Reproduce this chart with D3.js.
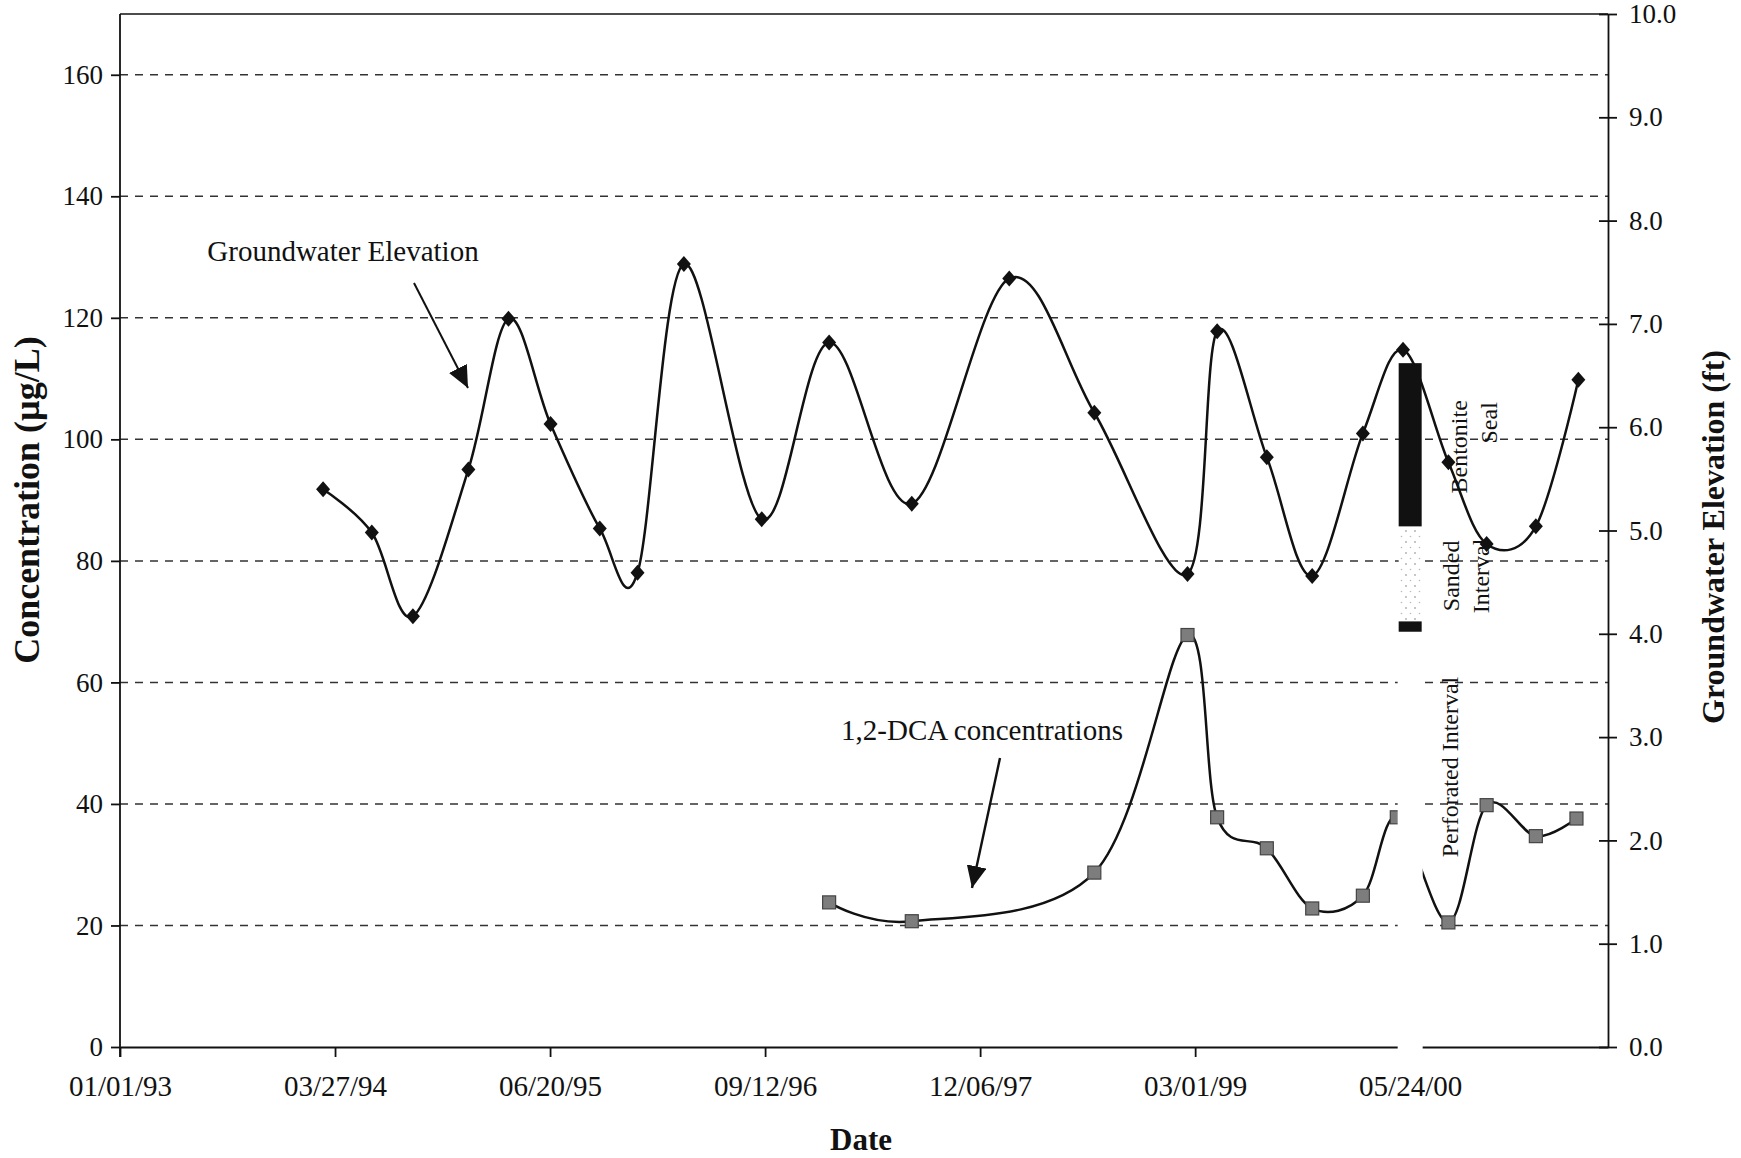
<!DOCTYPE html>
<html lang="en">
  <head>
    <meta charset="utf-8"/>
    <title>Groundwater Elevation and 1,2-DCA</title>
    <style>
      body { margin: 0; background: #fff; }
      text { font-family: "Liberation Serif", "Times New Roman", serif; fill: #111; }
    </style>
  </head>
  <body>
    <svg id="chart"></svg>

    <script src="https://d3js.org/d3.v7.min.js"></script>
    <script type="text/javascript">
      // values
      const xTickDates = ["1993-01-01", "1994-03-27", "1995-06-20", "1996-09-12", "1997-12-06", "1999-03-01", "2000-05-24"];
      const concTicks = [0, 20, 40, 60, 80, 100, 120, 140, 160];
      const elevTicks = [0, 1, 2, 3, 4, 5, 6, 7, 8, 9, 10];

      const gwDates = ["1994-03-02", "1994-06-12", "1994-09-06", "1994-12-31", "1995-03-25", "1995-06-21",
                       "1995-10-02", "1995-12-20", "1996-03-26", "1996-09-05", "1997-01-24", "1997-07-16",
                       "1998-02-05", "1998-08-02", "1999-02-13", "1999-04-16", "1999-07-29", "1999-11-01",
                       "2000-02-15", "2000-05-09", "2000-08-12", "2000-10-31", "2001-02-11", "2001-05-11"];
      const gwElev = [5.40, 4.98, 4.17, 5.59, 7.05, 6.03, 5.02, 4.59, 7.58, 5.11, 6.82, 5.26,
                      7.44, 6.14, 4.58, 6.93, 5.71, 4.56, 5.94, 6.75, 5.66, 4.87, 5.04, 6.46];

      const dcaDates = ["1997-01-24", "1997-07-16", "1998-08-02", "1999-02-13", "1999-04-16", "1999-07-29",
                        "1999-11-01", "2000-02-15", "2000-04-26", "2000-08-12", "2000-10-31", "2001-02-11", "2001-05-07"];
      const dcaConc = [23.8, 20.7, 28.7, 67.8, 37.8, 32.7, 22.8, 24.9, 37.8, 20.5, 39.8, 34.7, 37.6];

      // well construction (elevation, ft)
      const wellDate = "2000-05-24";
      const sealTop = 6.62, sealBottom = 5.04;
      const sandBottom = 4.12, plugBottom = 4.02, perfBottom = -0.12;

      const W = 1741, H = 1158;
      const pLeft = 120, pRight = 1608, pTop = 14, pBottom = 1047;
      const fontSize = 27;

      const parse = d3.timeParse("%Y-%m-%d");
      const fmt = d3.timeFormat("%m/%d/%y");

      const svg = d3.select("#chart").attr("width", W).attr("height", H);

      const x = d3.scaleTime().domain([parse("1993-01-01"), parse("2001-07-12")]).range([pLeft, pRight]);
      const yConc = d3.scaleLinear().domain([0, 170]).range([pBottom, pTop]);
      const yElev = d3.scaleLinear().domain([0, 10]).range([pBottom, pTop]);

      const gw = gwDates.map((d, i) => ({ date: parse(d), v: gwElev[i] }));
      const dca = dcaDates.map((d, i) => ({ date: parse(d), v: dcaConc[i] }));

      const defs = svg.append("defs");
      defs.append("marker")
        .attr("id", "head")
        .attr("markerUnits", "userSpaceOnUse")
        .attr("viewBox", "0 0 22 20")
        .attr("refX", 22).attr("refY", 10)
        .attr("markerWidth", 22).attr("markerHeight", 20)
        .attr("orient", "auto")
        .append("path").attr("d", "M0,0 L22,10 L0,20 Z").attr("fill", "#111");

      const pat = defs.append("pattern")
        .attr("id", "sand").attr("patternUnits", "userSpaceOnUse")
        .attr("width", 9).attr("height", 11);
      pat.append("rect").attr("width", 9).attr("height", 11).attr("fill", "#fff");
      pat.append("circle").attr("cx", 2).attr("cy", 3).attr("r", 0.9).attr("fill", "#aaa");
      pat.append("circle").attr("cx", 6.5).attr("cy", 8.5).attr("r", 0.8).attr("fill", "#bbb");

      // gridlines
      svg.append("g").selectAll("line")
        .data(concTicks.filter(d => d > 0))
        .enter().append("line")
          .attr("x1", pLeft).attr("x2", pRight)
          .attr("y1", d => yConc(d)).attr("y2", d => yConc(d))
          .attr("stroke", "#333").attr("stroke-width", 1.5)
          .attr("stroke-dasharray", "8,7");

      // frame top
      svg.append("line")
        .attr("x1", pLeft).attr("x2", pRight).attr("y1", pTop).attr("y2", pTop)
        .attr("stroke", "#111").attr("stroke-width", 1.5);

      const gx = svg.append("g")
        .attr("transform", "translate(0," + pBottom + ")")
        .call(d3.axisBottom(x).tickValues(xTickDates.map(parse)).tickFormat(fmt)
          .tickSize(10).tickSizeOuter(0).tickPadding(18));
      gx.selectAll("text").style("font-size", "29px");

      const gl = svg.append("g")
        .attr("transform", "translate(" + pLeft + ",0)")
        .call(d3.axisLeft(yConc).tickValues(concTicks).tickSize(9).tickSizeOuter(0).tickPadding(8));
      gl.selectAll("text").style("font-size", fontSize + "px");
      gl.select(".domain").attr("d", "M0," + pTop + "V" + (pBottom + 10));

      const gr = svg.append("g")
        .attr("transform", "translate(" + pRight + ",0)")
        .call(d3.axisRight(yElev).tickValues(elevTicks).tickFormat(d3.format(".1f"))
          .tickSize(9).tickSizeOuter(0).tickPadding(12));
      gr.selectAll(".tick line").attr("x1", -9);
      gr.selectAll("text").style("font-size", fontSize + "px");

      svg.selectAll(".domain, .tick line").attr("stroke", "#111").attr("stroke-width", 1.8);
      svg.selectAll(".tick text").attr("fill", "#111").style("font-family", '"Liberation Serif", serif');

      // series lines
      const lineDca = d3.line().x(d => x(d.date)).y(d => yConc(d.v)).curve(d3.curveCardinal.tension(0));
      const lineGw = d3.line().x(d => x(d.date)).y(d => yElev(d.v)).curve(d3.curveCardinal.tension(0));

      svg.append("path").datum(dca).attr("d", lineDca)
        .attr("fill", "none").attr("stroke", "#111").attr("stroke-width", 2.5);
      svg.append("path").datum(gw).attr("d", lineGw)
        .attr("fill", "none").attr("stroke", "#111").attr("stroke-width", 2.5);

      svg.append("g").selectAll("rect")
        .data(dca).enter().append("rect")
          .attr("x", d => x(d.date) - 6.5).attr("y", d => yConc(d.v) - 6.5)
          .attr("width", 13).attr("height", 13)
          .attr("fill", "#7d7d7d").attr("stroke", "#444").attr("stroke-width", 1.2);

      svg.append("g").selectAll("path")
        .data(gw).enter().append("path")
          .attr("transform", d => "translate(" + x(d.date) + "," + yElev(d.v) + ")")
          .attr("d", "M0,-8 L7,0 L0,8 L-7,0 Z")
          .attr("fill", "#111");

      // well construction
      const wx = x(parse(wellDate)), ww = 23;
      const well = svg.append("g");
      well.append("rect")
        .attr("x", wx - ww / 2 - 1).attr("width", ww + 2)
        .attr("y", yElev(plugBottom)).attr("height", yElev(perfBottom) - yElev(plugBottom))
        .attr("fill", "#fff");
      well.append("rect")
        .attr("x", wx - ww / 2).attr("width", ww)
        .attr("y", yElev(sealBottom)).attr("height", yElev(sandBottom) - yElev(sealBottom))
        .attr("fill", "url(#sand)");
      well.append("rect")
        .attr("x", wx - ww / 2).attr("width", ww)
        .attr("y", yElev(sandBottom)).attr("height", yElev(plugBottom) - yElev(sandBottom))
        .attr("fill", "#111");
      well.append("rect")
        .attr("x", wx - ww / 2).attr("width", ww)
        .attr("y", yElev(sealTop)).attr("height", yElev(sealBottom) - yElev(sealTop))
        .attr("fill", "#111");

      const wellLabels = [
        { t: "Bentonite", dx: 57, y: yElev(sealTop) + 37, anchor: "end" },
        { t: "Seal", dx: 87, y: yElev(sealTop) + 39, anchor: "end" },
        { t: "Sanded", dx: 49, y: (yElev(sealBottom) + yElev(sandBottom)) / 2 + 2, anchor: "middle" },
        { t: "Interval", dx: 79, y: (yElev(sealBottom) + yElev(sandBottom)) / 2 + 2, anchor: "middle" },
        { t: "Perforated Interval", dx: 48, y: 767, anchor: "middle" }
      ];
      well.selectAll("text.wl")
        .data(wellLabels).enter().append("text")
          .attr("class", "wl")
          .attr("transform", d => "translate(" + (wx + d.dx) + "," + d.y + ") rotate(-90)")
          .attr("text-anchor", d => d.anchor)
          .style("font-size", "24px")
          .text(d => d.t);

      // callouts
      svg.append("text").attr("x", 343).attr("y", 261).attr("text-anchor", "middle")
        .style("font-size", "29px").text("Groundwater Elevation");
      svg.append("line").attr("x1", 414).attr("y1", 283).attr("x2", 468).attr("y2", 388)
        .attr("stroke", "#111").attr("stroke-width", 2).attr("marker-end", "url(#head)");

      svg.append("text").attr("x", 982).attr("y", 740).attr("text-anchor", "middle")
        .style("font-size", "29px").text("1,2-DCA concentrations");
      svg.append("line").attr("x1", 1000).attr("y1", 758).attr("x2", 972).attr("y2", 888)
        .attr("stroke", "#111").attr("stroke-width", 2.4).attr("marker-end", "url(#head)");

      // axis titles
      svg.append("text").attr("x", 861).attr("y", 1150).attr("text-anchor", "middle")
        .style("font-size", "31px").style("font-weight", "bold").text("Date");
      svg.append("text").attr("transform", "translate(39,500) rotate(-90)").attr("text-anchor", "middle")
        .style("font-size", "36px").style("font-weight", "bold").text("Concentration (µg/L)");
      svg.append("text").attr("transform", "translate(1724,537) rotate(-90)").attr("text-anchor", "middle")
        .style("font-size", "32px").style("font-weight", "bold").text("Groundwater Elevation (ft)");
    </script>
  </body>
</html>
